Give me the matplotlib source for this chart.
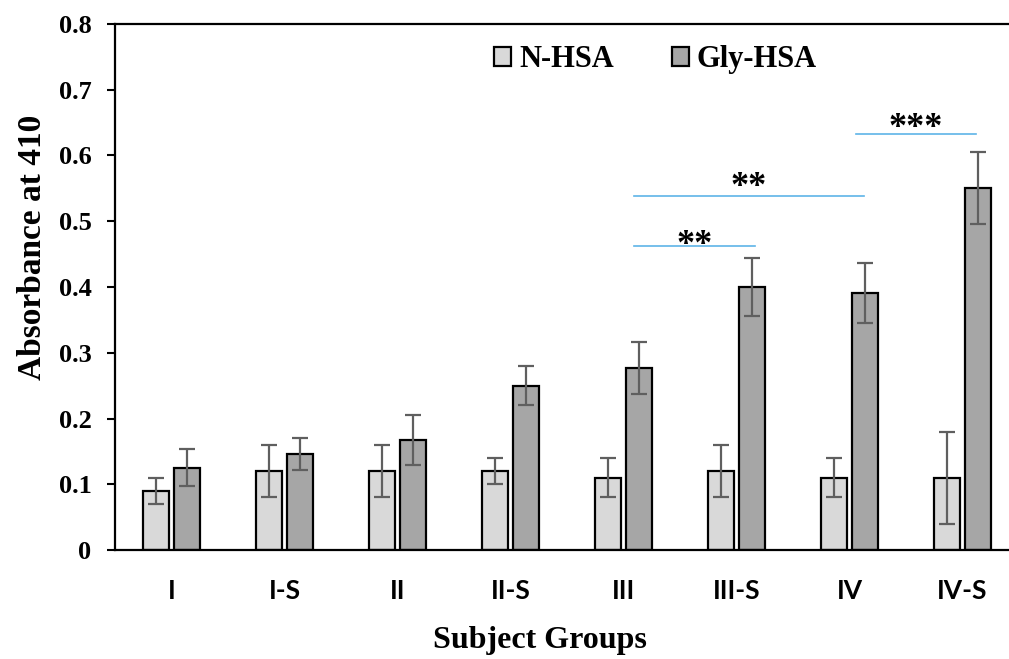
import matplotlib
matplotlib.use("Agg")
import matplotlib.pyplot as plt
import numpy as np

groups = ['I', 'I-S', 'II', 'II-S', 'III', 'III-S', 'IV', 'IV-S']
n_hsa = [0.09, 0.12, 0.12, 0.12, 0.11, 0.12, 0.11, 0.11]
n_err = [0.02, 0.04, 0.04, 0.02, 0.03, 0.04, 0.03, 0.07]
gly_hsa = [0.125, 0.146, 0.167, 0.25, 0.277, 0.40, 0.391, 0.551]
gly_err = [0.028, 0.025, 0.038, 0.03, 0.04, 0.044, 0.046, 0.055]

# significance brackets: start, end, height, label, label baseline
sig_start = [4.09, 4.09, 6.06]
sig_end = [5.16, 6.13, 7.12]
sig_y = [0.463, 0.538, 0.632]
sig_label = ['**', '**', '***']
sig_text_y = [0.450, 0.538, 0.628]

light = '#D9D9D9'
dark = '#A6A6A6'
err_col = '#5F5F5F'
blue = '#5DB4E8'
serif = 'Liberation Serif'

fig = plt.figure(figsize=(10.09, 6.59), dpi=100)
ax = fig.add_axes([115 / 1009, 109 / 659, 904 / 1009, 526 / 659])

x = np.arange(len(groups))
w = 0.23
off = 0.138
ax.bar(x - off, n_hsa, w, color=light, edgecolor='black', linewidth=1.6, label='N-HSA', zorder=2)
ax.bar(x + off, gly_hsa, w, color=dark, edgecolor='black', linewidth=1.6, label='Gly-HSA', zorder=2)
ax.errorbar(x - off, n_hsa, yerr=n_err, fmt='none', ecolor=err_col, elinewidth=1.6, capsize=6, capthick=1.6, zorder=3)
ax.errorbar(x + off, gly_hsa, yerr=gly_err, fmt='none', ecolor=err_col, elinewidth=1.6, capsize=6, capthick=1.6, zorder=3)

for s, e, y, lab, ty in zip(sig_start, sig_end, sig_y, sig_label, sig_text_y):
    ax.plot([s, e], [y, y], color=blue, lw=1.2, zorder=1)
    ax.text((s + e) / 2, ty, lab, ha='center', va='baseline', fontsize=26,
            fontweight='bold', family=serif)

ax.set_xlim(-0.5, 7.5)
ax.set_ylim(0, 0.8)
ax.set_yticks(np.arange(0, 0.81, 0.1))
ax.set_yticklabels(['0'] + [f'{v:.1f}' for v in np.arange(0.1, 0.81, 0.1)],
                   family=serif, fontweight='bold', fontsize=19)
ax.set_xticks(x)
ax.set_xticklabels(groups, family='Lato', fontweight='bold', fontsize=19)
ax.tick_params(axis='x', length=0, pad=21)
ax.tick_params(axis='y', direction='out', length=6, width=1.5, pad=11)

for side in ['left', 'top', 'bottom']:
    ax.spines[side].set_linewidth(1.6)
ax.spines['right'].set_visible(False)

ax.set_ylabel('Absorbance at 410', family=serif, fontweight='bold', fontsize=24)
ax.yaxis.set_label_coords(-0.074, 0.576)
ax.set_xlabel('Subject Groups', family=serif, fontweight='bold', fontsize=23)
ax.xaxis.set_label_coords((540 - 115) / 904, -0.145)

ax.legend(loc='upper center', bbox_to_anchor=(0.598, 1.012), ncol=2, frameon=False,
          prop={'family': serif, 'weight': 'bold', 'size': 22},
          handlelength=0.55, handleheight=0.55, handletextpad=0.26, columnspacing=1.9)

fig.savefig('out.png', dpi=100)
